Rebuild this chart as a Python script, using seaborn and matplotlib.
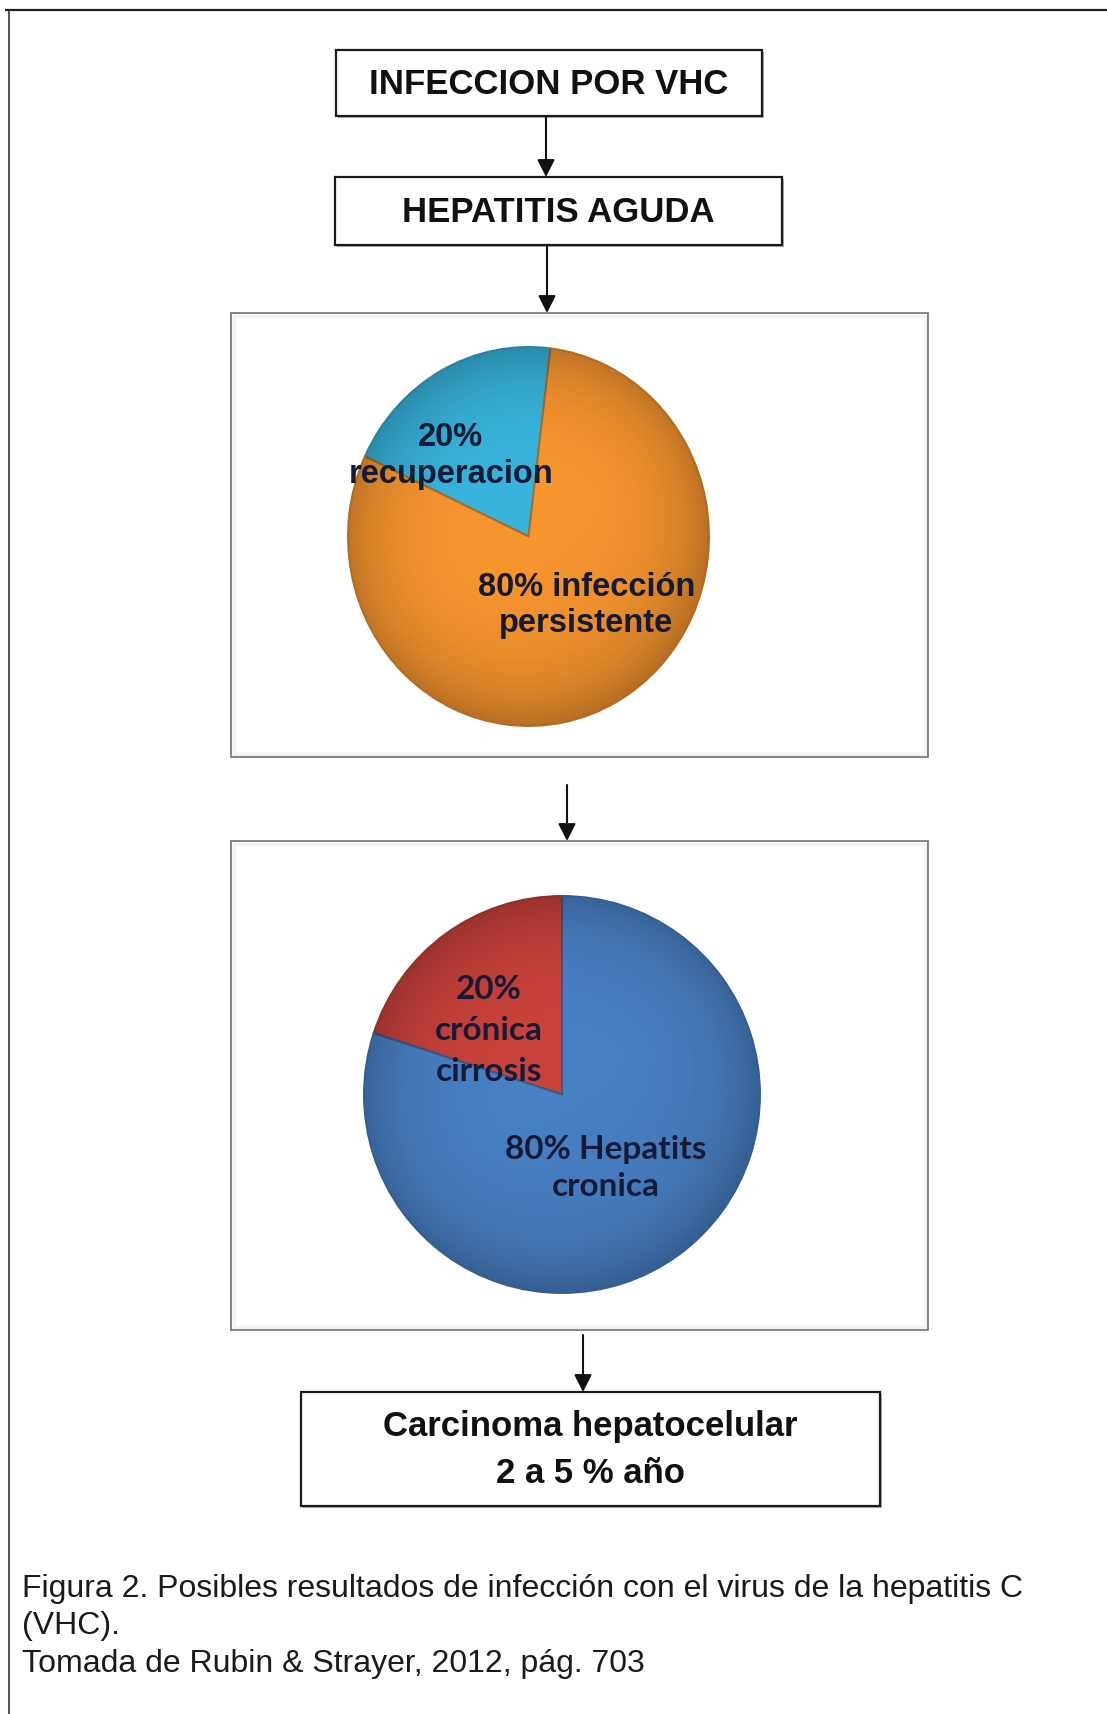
import numpy as np
import matplotlib
matplotlib.use("Agg")
import matplotlib.pyplot as plt
import seaborn as sns
from matplotlib.patches import Rectangle, Circle
from matplotlib.colors import to_rgb

# ---------------- data ----------------
step_labels = ["INFECCION POR VHC", "HEPATITIS AGUDA"]
pie1_values = [20, 80]
pie1_labels = ["20%\nrecuperacion", "80% infección\npersistente"]
pie1_colors = ["#38B3DB", "#F7952F"]
pie2_values = [20, 80]
pie2_labels = ["20%\ncrónica\ncirrosis", "80% Hepatits\ncronica"]
pie2_colors = ["#C8413B", "#4880C4"]
final_label = "Carcinoma hepatocelular\n2 a 5 % año"
caption_lines = [
    "Figura 2. Posibles resultados de infección con el virus de la hepatitis C",
    "(VHC).",
    "Tomada de Rubin & Strayer, 2012, pág. 703",
]

# ---------------- style ----------------
sns.set_theme(style="white")
plt.rcParams["font.family"] = ["Liberation Sans", "DejaVu Sans"]

W, H = 1107, 1715
fig = plt.figure(figsize=(W / 100, H / 100), dpi=100)
fig.patch.set_facecolor("white")

bg = fig.add_axes([0, 0, 1, 1])
bg.set_xlim(0, W)
bg.set_ylim(H, 0)
bg.axis("off")


def px_axes(x0, y0, x1, y1):
    return fig.add_axes([x0 / W, 1 - y1 / H, (x1 - x0) / W, (y1 - y0) / H])


def darker(c, f=0.75):
    r, g, b = to_rgb(c)
    return (r * f, g * f, b * f)


# page frame lines
bg.plot([5, W], [11, 11], color="#222222", lw=1.6, solid_capstyle="butt")
bg.plot([9, 9], [11, H], color="#222222", lw=1.1, solid_capstyle="butt")


def flow_box(x0, y0, x1, y1, text, fs=25):
    bg.add_patch(Rectangle((x0 + 2, y0 + 2), x1 - x0, y1 - y0, facecolor="#b0b0b0",
                           edgecolor="none", zorder=1))
    bg.add_patch(Rectangle((x0, y0), x1 - x0, y1 - y0, facecolor="white",
                           edgecolor="#1a1a1a", lw=1.6, zorder=2))
    bg.text((x0 + x1) / 2, (y0 + y1) / 2, text, ha="center", va="center",
            fontsize=fs, fontweight="bold", color="#111111", linespacing=1.55, zorder=3)


def arrow(x, y0, y1):
    bg.annotate("", xy=(x, y1), xytext=(x, y0),
                arrowprops=dict(arrowstyle="-|>,head_length=0.75,head_width=0.38",
                                color="#111111", lw=1.5, mutation_scale=14,
                                shrinkA=0, shrinkB=0), zorder=4)


def pie_frame(x0, y0, x1, y1):
    bg.add_patch(Rectangle((x0 + 3, y0 + 3), x1 - x0 - 6, y1 - y0 - 6, facecolor="none",
                           edgecolor="#f3f3f3", lw=2.5, zorder=1))
    bg.add_patch(Rectangle((x0, y0), x1 - x0, y1 - y0, facecolor="none",
                           edgecolor="#6f6f6f", lw=1.2, zorder=2))


def draw_pie(box, values, colors, labels, startangle, label_xy, family, fs, spacings):
    ax = px_axes(*box)
    wedges, _ = ax.pie(values, colors=colors, startangle=startangle, counterclock=True,
                       radius=1.0, wedgeprops=dict(linewidth=1.4))
    for w, c in zip(wedges, colors):
        w.set_edgecolor(darker(c, 0.72))
    ax.set_aspect("auto")
    ax.set_xlim(-1.0, 1.0)
    ax.set_ylim(-1.0, 1.0)
    ax.axis("off")
    # soft rim shading
    n = 300
    gx, gy = np.meshgrid(np.linspace(-1, 1, n), np.linspace(-1, 1, n))
    r = np.sqrt(gx ** 2 + gy ** 2)
    shade = np.clip(r, 0, 1) ** 4 * 0.22 + np.clip(-gy * 0.5 + gx * 0.3, 0, 1) * 0.08
    rgba = np.zeros((n, n, 4))
    rgba[..., 3] = shade
    im = ax.imshow(rgba, extent=(-1, 1, -1, 1), origin="lower", zorder=3,
                   interpolation="bilinear", aspect="auto")
    im.set_clip_path(Circle((0, 0), 0.995, transform=ax.transData))
    for lab, (lx, ly), ls in zip(labels, label_xy, spacings):
        ax.text(lx, ly, lab, ha="center", va="center", fontsize=fs, fontweight="bold",
                color="#151a36", family=family, linespacing=ls, zorder=5)
    return ax


# ---------------- flow ----------------
flow_box(336, 51, 762, 117, step_labels[0])
arrow(546, 117, 178)
flow_box(335, 178, 782, 246, step_labels[1])
arrow(547, 246, 314)

pie_frame(231, 314, 928, 758)
draw_pie((348, 348, 709, 727), pie1_values, pie1_colors, pie1_labels, 83,
         [(-0.43, 0.43), (0.32, -0.36)], ["Liberation Sans", "DejaVu Sans"], 23.5,
         [1.25, 1.22])

arrow(567, 786, 842)

pie_frame(231, 842, 928, 1331)
draw_pie((364, 897, 760, 1294), pie2_values, pie2_colors, pie2_labels, 90,
         [(-0.37, 0.327), (0.22, -0.365)], ["Lato", "DejaVu Sans"], 24, [1.5, 1.3])

arrow(583, 1336, 1393)
flow_box(301, 1393, 880, 1507, final_label)

for i, line in enumerate(caption_lines):
    bg.text(22, 1589 + i * 37.5, line, ha="left", va="center", fontsize=23,
            color="#1a1a1a")

fig.savefig("out.png", dpi=100, facecolor="white")
